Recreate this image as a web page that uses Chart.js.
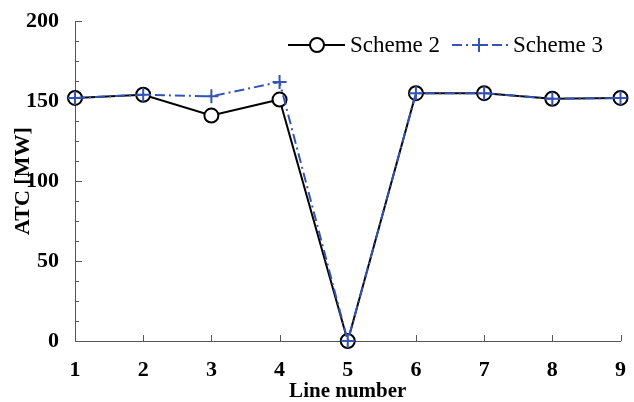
<!DOCTYPE html>
<html>
<head>
<meta charset="utf-8">
<script src="https://cdn.jsdelivr.net/npm/chart.js@4.4.1/dist/chart.umd.min.js"></script>
<style>
  html, body { margin: 0; padding: 0; background: #fff; }
  #wrap { width: 634px; height: 402px; }
</style>
</head>
<body>
<div id="wrap"><canvas id="atcChart" width="634" height="402"></canvas></div>
<script>
// line numbers on the x axis
const lineNumbers = [1, 2, 3, 4, 5, 6, 7, 8, 9];
// ATC values (MW)
const scheme2 = [152, 154, 141, 151, 0, 155, 155, 151.5, 152];
const scheme3 = [152, 154, 153, 162, 0, 155, 155, 151.5, 152];
const seriesNames = ["Scheme 2", "Scheme 3"];
const yMajorTicks = [0, 50, 100, 150, 200];

const BLUE = "#3354b6";
const AXIS = "#555";
const SERIF = "'Liberation Serif', 'DejaVu Serif', serif";

// inward tick marks (the figure uses matlab style ticks)
const insideTicks = {
    id: "insideTicks",
    beforeDatasetsDraw(chart) {
        const ctx = chart.ctx;
        const area = chart.chartArea;
        const xs = chart.scales.x;
        const ys = chart.scales.y;
        ctx.save();
        ctx.strokeStyle = AXIS;
        ctx.lineWidth = 1;
        ctx.beginPath();
        xs.ticks.forEach(t => {
            const px = Math.round(xs.getPixelForValue(t.value)) + 0.5;
            ctx.moveTo(px, area.bottom);
            ctx.lineTo(px, area.bottom - 6);
        });
        ys.ticks.forEach(t => {
            const py = Math.round(ys.getPixelForValue(t.value)) + 0.5;
            const len = yMajorTicks.includes(t.value) ? 7 : 4;
            ctx.moveTo(area.left, py);
            ctx.lineTo(area.left + len, py);
        });
        ctx.stroke();
        ctx.restore();
    }
};

// legend drawn inside the plot, top right, with line + marker samples
const innerLegend = {
    id: "innerLegend",
    afterDraw(chart) {
        const ctx = chart.ctx;
        const y = 45;
        ctx.save();
        ctx.font = "23px " + SERIF;
        ctx.textBaseline = "middle";
        ctx.fillStyle = "#000";

        // scheme 2 sample
        ctx.strokeStyle = "#000";
        ctx.lineWidth = 2;
        ctx.beginPath();
        ctx.moveTo(288, y);
        ctx.lineTo(345, y);
        ctx.stroke();
        ctx.beginPath();
        ctx.fillStyle = "#fff";
        ctx.arc(317, y, 7, 0, Math.PI * 2);
        ctx.fill();
        ctx.stroke();
        ctx.fillStyle = "#000";
        ctx.fillText(seriesNames[0], 350, y + 1);

        // scheme 3 sample
        ctx.strokeStyle = BLUE;
        ctx.setLineDash([10, 4, 2, 4]);
        ctx.beginPath();
        ctx.moveTo(452, y);
        ctx.lineTo(508, y);
        ctx.stroke();
        ctx.setLineDash([]);
        ctx.beginPath();
        ctx.moveTo(472, y);
        ctx.lineTo(486, y);
        ctx.moveTo(479, y - 7);
        ctx.lineTo(479, y + 7);
        ctx.stroke();
        ctx.fillText(seriesNames[1], 513, y + 1);
        ctx.restore();
    }
};

function createChart() {
    const ctx = document.getElementById("atcChart").getContext("2d");
    window.atcChart = new Chart(ctx, {
        type: "line",
        data: {
            labels: lineNumbers,
            datasets: [
                {
                    label: seriesNames[0],
                    data: lineNumbers.map((x, i) => ({ x: x, y: scheme2[i] })),
                    borderColor: "#000",
                    borderWidth: 2,
                    pointStyle: "circle",
                    pointRadius: 7,
                    pointBorderWidth: 2,
                    pointBorderColor: "#000",
                    pointBackgroundColor: "#fff",
                    tension: 0,
                    fill: false,
                    clip: false,
                    order: 2
                },
                {
                    label: seriesNames[1],
                    data: lineNumbers.map((x, i) => ({ x: x, y: scheme3[i] })),
                    borderColor: BLUE,
                    borderWidth: 2,
                    borderDash: [10, 4, 2, 4],
                    pointStyle: "cross",
                    pointRadius: 7,
                    pointBorderWidth: 2,
                    pointBorderColor: BLUE,
                    tension: 0,
                    fill: false,
                    clip: false,
                    order: 1
                }
            ]
        },
        options: {
            responsive: false,
            animation: false,
            layout: { padding: { left: 0, right: 13, top: 19, bottom: 0 } },
            plugins: {
                legend: { display: false },
                tooltip: { enabled: false }
            },
            scales: {
                x: {
                    type: "linear",
                    min: 1,
                    max: 9,
                    grid: { display: false },
                    border: { display: true, color: AXIS, width: 1 },
                    ticks: {
                        stepSize: 1,
                        padding: 8,
                        color: "#000",
                        font: { family: SERIF, size: 22, weight: "bold" }
                    },
                    title: {
                        display: true,
                        text: "Line number",
                        color: "#000",
                        padding: { top: 0, bottom: 0 },
                        font: { family: SERIF, size: 21, weight: "bold", lineHeight: 1.0 }
                    },
                    afterFit: s => { s.height = 61; }
                },
                y: {
                    min: 0,
                    max: 200,
                    grid: { display: false },
                    border: { display: true, color: AXIS, width: 1 },
                    ticks: {
                        stepSize: 12.5,
                        autoSkip: false,
                        padding: 8,
                        color: "#000",
                        font: { family: SERIF, size: 22, weight: "bold" },
                        callback: v => (v % 50 === 0 ? v : "")
                    },
                    title: {
                        display: true,
                        text: "ATC [MW]",
                        color: "#000",
                        padding: { top: 10, bottom: 0 },
                        font: { family: SERIF, size: 22, weight: "bold" }
                    },
                    afterFit: s => { s.width = 75; }
                }
            }
        },
        plugins: [insideTicks, innerLegend]
    });
}

window.onload = createChart;
</script>
</body>
</html>
